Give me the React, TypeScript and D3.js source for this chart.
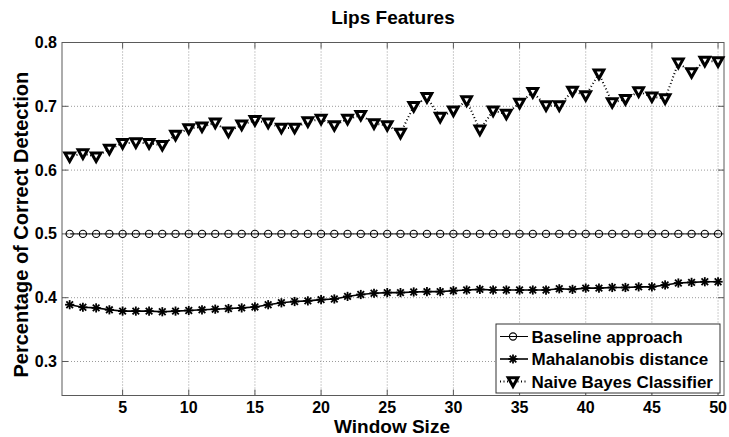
import React from "react";
import * as d3 from "d3";

const windowSizes = [1,2,3,4,5,6,7,8,9,10,11,12,13,14,15,16,17,18,19,20,21,22,23,24,25,26,27,28,29,30,31,32,33,34,35,36,37,38,39,40,41,42,43,44,45,46,47,48,49,50];

const baseline = [0.5,0.5,0.5,0.5,0.5,0.5,0.5,0.5,0.5,0.5,0.5,0.5,0.5,0.5,0.5,0.5,0.5,0.5,0.5,0.5,0.5,0.5,0.5,0.5,0.5,0.5,0.5,0.5,0.5,0.5,0.5,0.5,0.5,0.5,0.5,0.5,0.5,0.5,0.5,0.5,0.5,0.5,0.5,0.5,0.5,0.5,0.5,0.5,0.5,0.5];

const mahalanobis = [0.389,0.385,0.384,0.381,0.379,0.379,0.379,0.378,0.379,0.380,0.381,0.382,0.383,0.384,0.3855,0.389,0.392,0.394,0.395,0.397,0.398,0.402,0.405,0.407,0.408,0.408,0.409,0.4095,0.4095,0.411,0.412,0.413,0.412,0.412,0.412,0.412,0.412,0.414,0.413,0.415,0.415,0.416,0.416,0.417,0.417,0.420,0.423,0.424,0.425,0.425];

const naiveBayes = [0.621,0.626,0.621,0.633,0.642,0.643,0.642,0.639,0.655,0.665,0.668,0.674,0.660,0.671,0.678,0.674,0.666,0.666,0.676,0.680,0.670,0.680,0.686,0.673,0.670,0.658,0.700,0.714,0.683,0.693,0.709,0.663,0.693,0.688,0.705,0.722,0.701,0.701,0.724,0.717,0.751,0.706,0.711,0.723,0.715,0.712,0.768,0.753,0.771,0.770];

const xTicks = [5,10,15,20,25,30,35,40,45,50];
const yTicks = [0.3,0.4,0.5,0.6,0.7,0.8];
const seriesNames = ["Baseline approach", "Mahalanobis distance", "Naive Bayes Classifier"];
const title = "Lips Features";
const xLabel = "Window Size";
const yLabel = "Percentage of Correct Detection";

const W = 729, H = 437;
const L = 62, R = 724, T = 42.5, B = 395.5;
const FONT = "'Liberation Sans', Arial, Helvetica, sans-serif";

function Circle({ x, y }: { x: number; y: number }) {
  return <circle cx={x} cy={y} r={3.6} fill="none" stroke="#000" strokeWidth={1.1} />;
}
function Star({ x, y }: { x: number; y: number }) {
  const s = 4.6, d = s * 0.72;
  return (
    <g stroke="#000" strokeWidth={1.8}>
      <line x1={x - s} y1={y} x2={x + s} y2={y} />
      <line x1={x} y1={y - s} x2={x} y2={y + s} />
      <line x1={x - d} y1={y - d} x2={x + d} y2={y + d} />
      <line x1={x - d} y1={y + d} x2={x + d} y2={y - d} />
    </g>
  );
}
function Tri({ x, y }: { x: number; y: number }) {
  const w = 4.8, h = 3.8;
  return (
    <path d={`M${x - w},${y - h}L${x + w},${y - h}L${x},${y + h + 1}Z`} fill="#fff" stroke="#000" strokeWidth={3} strokeLinejoin="miter" />
  );
}

export default function App() {
  const x = d3.scaleLinear().domain([0.42, 50.45]).range([L, R]);
  const y = d3.scaleLinear().domain([0.2467, 0.8]).range([B, T]);
  const line = d3.line<number>().x((_, i) => x(windowSizes[i])).y((v) => y(v));

  const legX = 496, legY = 324, legW = 224, legH = 69;
  const rowY = [336.5, 359, 381.5];

  return (
    <svg width={W} height={H} style={{ position: "absolute", left: 0, top: 0, background: "#fff" }} fontFamily={FONT}>
      <rect x={0} y={0} width={W} height={H} fill="#fff" />
      <g stroke="#9a9a9a" strokeWidth={1} strokeDasharray="1,2">
        {xTicks.map((t) => (
          <line key={"gx" + t} x1={x(t)} x2={x(t)} y1={T} y2={B} />
        ))}
        {yTicks.map((t) => (
          <line key={"gy" + t} x1={L} x2={R} y1={y(t)} y2={y(t)} />
        ))}
      </g>
      <rect x={L} y={T} width={R - L} height={B - T} fill="none" stroke="#5a5a5a" strokeWidth={1} />
      <g stroke="#5a5a5a" strokeWidth={1}>
        {xTicks.map((t) => (
          <g key={"tx" + t}>
            <line x1={x(t)} x2={x(t)} y1={B} y2={B - 6} />
            <line x1={x(t)} x2={x(t)} y1={T} y2={T + 6} />
          </g>
        ))}
        {yTicks.map((t) => (
          <g key={"ty" + t}>
            <line x1={L} x2={L + 6} y1={y(t)} y2={y(t)} />
            <line x1={R} x2={R - 6} y1={y(t)} y2={y(t)} />
          </g>
        ))}
      </g>
      <g fontSize={16} fontWeight="bold" fill="#000">
        {xTicks.map((t) => (
          <text key={"lx" + t} x={x(t)} y={413} textAnchor="middle">{t}</text>
        ))}
        {yTicks.map((t) => (
          <text key={"ly" + t} x={57} y={y(t) + 5.5} textAnchor="end">{t.toFixed(1)}</text>
        ))}
      </g>
      <text x={(L + R) / 2} y={24} textAnchor="middle" fontSize={19} fontWeight="bold">{title}</text>
      <text x={392} y={433} textAnchor="middle" fontSize={19} fontWeight="bold">{xLabel}</text>
      <text transform={`translate(28,224.7) rotate(-90)`} textAnchor="middle" fontSize={20} fontWeight="bold">{yLabel}</text>

      <path d={line(baseline) || ""} fill="none" stroke="#000" strokeWidth={1} />
      <path d={line(mahalanobis) || ""} fill="none" stroke="#000" strokeWidth={1.6} />
      <path d={line(naiveBayes) || ""} fill="none" stroke="#000" strokeWidth={2} strokeDasharray="1,2.5" />
      {baseline.map((v, i) => <Circle key={"c" + i} x={x(windowSizes[i])} y={y(v)} />)}
      {mahalanobis.map((v, i) => <Star key={"s" + i} x={x(windowSizes[i])} y={y(v)} />)}
      {naiveBayes.map((v, i) => <Tri key={"t" + i} x={x(windowSizes[i])} y={y(v)} />)}

      <rect x={legX} y={legY} width={legW} height={legH} fill="#fff" stroke="#333" strokeWidth={1} />
      <line x1={500} x2={528} y1={rowY[0]} y2={rowY[0]} stroke="#000" strokeWidth={1} />
      <Circle x={513} y={rowY[0]} />
      <line x1={500} x2={528} y1={rowY[1]} y2={rowY[1]} stroke="#000" strokeWidth={1.6} />
      <Star x={513} y={rowY[1]} />
      <line x1={500} x2={528} y1={rowY[2]} y2={rowY[2]} stroke="#000" strokeWidth={2} strokeDasharray="1,2.5" />
      <Tri x={513} y={rowY[2]} />
      <g fontSize={17} fontWeight="bold">
        {seriesNames.map((n, i) => (
          <text key={n} x={531.5} y={rowY[i] + 6}>{n}</text>
        ))}
      </g>
    </svg>
  );
}
